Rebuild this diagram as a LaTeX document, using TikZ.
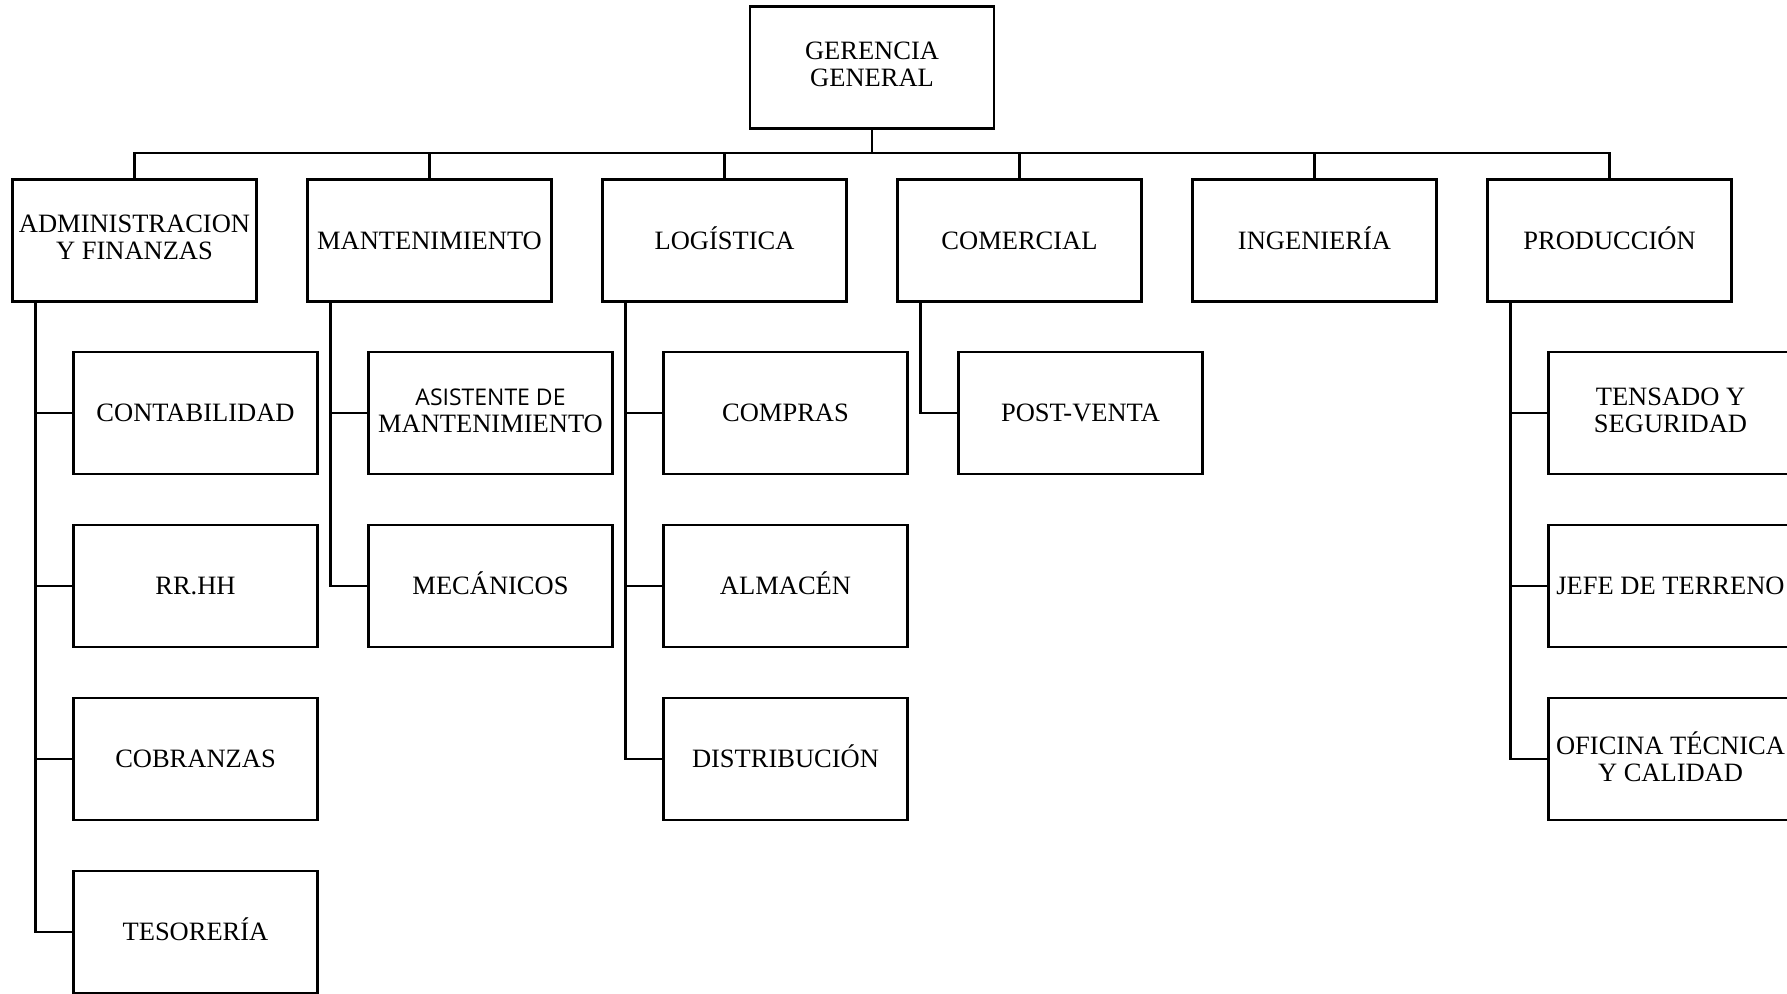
\documentclass[tikz,border=0pt]{standalone}
\usepackage{fontspec}
\setmainfont{Liberation Serif}
\newfontfamily\opensans{Open Sans}
\usepackage{tikz}
\usetikzlibrary{positioning}

\tikzset{
    caja/.style={draw, line width=2.7pt, minimum width=244pt, minimum height=122pt,
        inner sep=0pt, align=center, font=\fontsize{26.5}{27}\selectfont,
        execute at begin node=\vphantom{Í}, execute at end node=\vphantom{p}},
    doble/.style={execute at begin node=\rule{0pt}{36pt}},
    linea/.style={line width=2.7pt}
}

\begin{document}
\begin{tikzpicture}[x=1pt, y=-1pt]
    \useasboundingbox (0,0) rectangle (1787,993);
    % gerencia y areas
    \node[caja, doble] (ger) at (872,67.5) {GERENCIA\\GENERAL};
    \node[caja, doble] (adm) at (134.5,240.5) {ADMINISTRACION\\Y FINANZAS};
    \node[caja] (man) at (429.5,240.5) {MANTENIMIENTO};
    \node[caja] (log) at (724.5,240.5) {LOGÍSTICA};
    \node[caja] (com) at (1019.5,240.5) {COMERCIAL};
    \node[caja] (ing) at (1314.5,240.5) {INGENIERÍA};
    \node[caja] (pro) at (1609.5,240.5) {PRODUCCIÓN};

    % subareas
    \node[caja] (cont) at (195.5,413) {CONTABILIDAD};
    \node[caja] (rrhh) at (195.5,586) {RR.HH};
    \node[caja] (cobr) at (195.5,759) {COBRANZAS};
    \node[caja] (teso) at (195.5,932) {TESORERÍA};
    \node[caja, doble] (asis) at (490.5,413) {{\opensans\fontsize{23}{27}\selectfont ASISTENTE DE}\\MANTENIMIENTO};
    \node[caja] (meca) at (490.5,586) {MECÁNICOS};
    \node[caja] (compr) at (785.5,413) {COMPRAS};
    \node[caja] (alma) at (785.5,586) {ALMACÉN};
    \node[caja] (dist) at (785.5,759) {DISTRIBUCIÓN};
    \node[caja] (post) at (1080.5,413) {POST-VENTA};
    \node[caja, doble] (tens) at (1670.5,413) {TENSADO Y\\SEGURIDAD};
    \node[caja] (jefe) at (1670.5,586) {JEFE DE TERRENO};
    \node[caja, doble] (ofic) at (1670.5,759) {OFICINA TÉCNICA\\Y CALIDAD};

    % lineas
    \coordinate (bus) at (0,153);
    \draw[linea] (ger.south) -- (ger.south |- bus);
    \draw[linea] (adm.north) |- (bus -| pro.north) -- (pro.north);
    \foreach \a in {man,log,com,ing}
        \draw[linea] (\a.north) -- (\a.north |- bus);

    \coordinate (admT) at ([xshift=24.5pt]adm.south west);
    \coordinate (manT) at ([xshift=24.5pt]man.south west);
    \coordinate (logT) at ([xshift=24.5pt]log.south west);
    \coordinate (comT) at ([xshift=24.5pt]com.south west);
    \coordinate (proT) at ([xshift=24.5pt]pro.south west);
    \foreach \s in {cont,rrhh,cobr,teso}
        \draw[linea] (admT) |- (\s.west);
    \foreach \s in {asis,meca}
        \draw[linea] (manT) |- (\s.west);
    \foreach \s in {compr,alma,dist}
        \draw[linea] (logT) |- (\s.west);
    \draw[linea] (comT) |- (post.west);
    \foreach \s in {tens,jefe,ofic}
        \draw[linea] (proT) |- (\s.west);
\end{tikzpicture}
\end{document}
